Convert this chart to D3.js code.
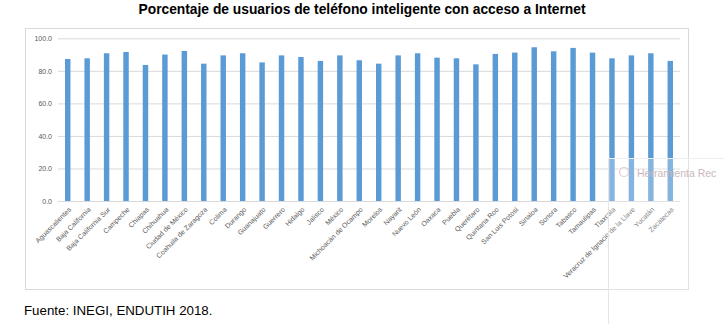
<!DOCTYPE html>
<html><head><meta charset="utf-8">
<script src="https://cdn.jsdelivr.net/npm/d3@7"></script>
<style>body{margin:0;background:#fff}svg{display:block}</style>
</head><body>
<svg id="c" width="724" height="324"></svg>
<script>
const categories = ["Aguascalientes","Baja California","Baja California Sur","Campeche","Chiapas","Chihuahua","Ciudad de México","Coahuila de Zaragoza","Colima","Durango","Guanajuato","Guerrero","Hidalgo","Jalisco","México","Michoacán de Ocampo","Morelos","Nayarit","Nuevo León","Oaxaca","Puebla","Querétaro","Quintana Roo","San Luis Potosí","Sinaloa","Sonora","Tabasco","Tamaulipas","Tlaxcala","Veracruz de Ignacio de la Llave","Yucatán","Zacatecas"];
const values = [87.3,87.7,90.8,91.6,83.6,90.0,92.2,84.4,89.5,90.8,85.2,89.5,88.5,86.1,89.5,86.5,84.4,89.5,90.8,88.1,87.7,84.0,90.4,91.2,94.5,92.0,94.1,91.2,87.7,89.5,90.8,86.1];
const yTicks = [0,20,40,60,80,100];
const title = "Porcentaje de usuarios de teléfono inteligente con acceso a Internet";
const source = "Fuente: INEGI, ENDUTIH 2018.";

const svg = d3.select("#c");
const x = d3.scaleBand().domain(categories).range([58,680]).paddingInner(0.72).paddingOuter(0.36);
const y = d3.scaleLinear().domain([0,100]).range([201,38.3]);

svg.append("text").attr("x",362).attr("y",14).attr("text-anchor","middle")
  .attr("font-family","Liberation Sans, Arial, sans-serif").attr("font-weight","bold")
  .attr("font-size",13.8).attr("fill","#000").text(title);

svg.append("rect").attr("x",25.5).attr("y",28.5).attr("width",663).attr("height",261)
  .attr("fill","none").attr("stroke","#d9d9d9");

const ya = svg.append("g").attr("transform","translate(58,0)")
  .call(d3.axisLeft(y).tickValues(yTicks).tickFormat(d3.format(".1f")).tickSize(-622).tickPadding(6));
ya.select(".domain").remove();
ya.selectAll("line").attr("stroke","#d9d9d9");
ya.selectAll("text").attr("font-family","Liberation Sans, Arial, sans-serif").attr("font-size",7).attr("fill","#595959");

svg.append("g").selectAll("rect").data(values).join("rect")
  .attr("x",(d,i)=>x(categories[i])).attr("width",x.bandwidth())
  .attr("y",d=>y(d)).attr("height",d=>y(0)-y(d)).attr("fill","#5b9bd5");

const xa = svg.append("g").attr("transform","translate(0,201)")
  .call(d3.axisBottom(x).tickSize(0).tickPadding(0));
xa.select(".domain").remove();
xa.selectAll("text").attr("font-family","Liberation Sans, Arial, sans-serif").attr("font-size",7).attr("fill","#595959")
  .attr("text-anchor","end").attr("y",0).attr("dy",0)
  .attr("transform","translate(4,9) rotate(-45)");

svg.append("text").attr("x",24).attr("y",315)
  .attr("font-family","Liberation Sans, Arial, sans-serif").attr("font-size",13.3).attr("fill","#000").text(source);

// overlay panel (screen artifact)
const ov = svg.append("g");
ov.append("rect").attr("x",608).attr("y",158).attr("width",116).attr("height",166).attr("fill","#fff").attr("fill-opacity",0.25);
ov.append("line").attr("x1",608.5).attr("x2",608.5).attr("y1",158).attr("y2",324).attr("stroke","#e6e6e6");
ov.append("line").attr("x1",608).attr("x2",724).attr("y1",158.5).attr("y2",158.5).attr("stroke","#eeeeee");
ov.append("circle").attr("cx",624).attr("cy",172).attr("r",4.5).attr("fill","none").attr("stroke","#f0c8c8").attr("stroke-width",1.2);
ov.append("text").attr("x",637).attr("y",177).attr("font-family","Liberation Sans, Arial, sans-serif").attr("font-size",10.5).attr("fill","#c9b9bd").text("Herramienta Rec");
</script>
</body></html>
